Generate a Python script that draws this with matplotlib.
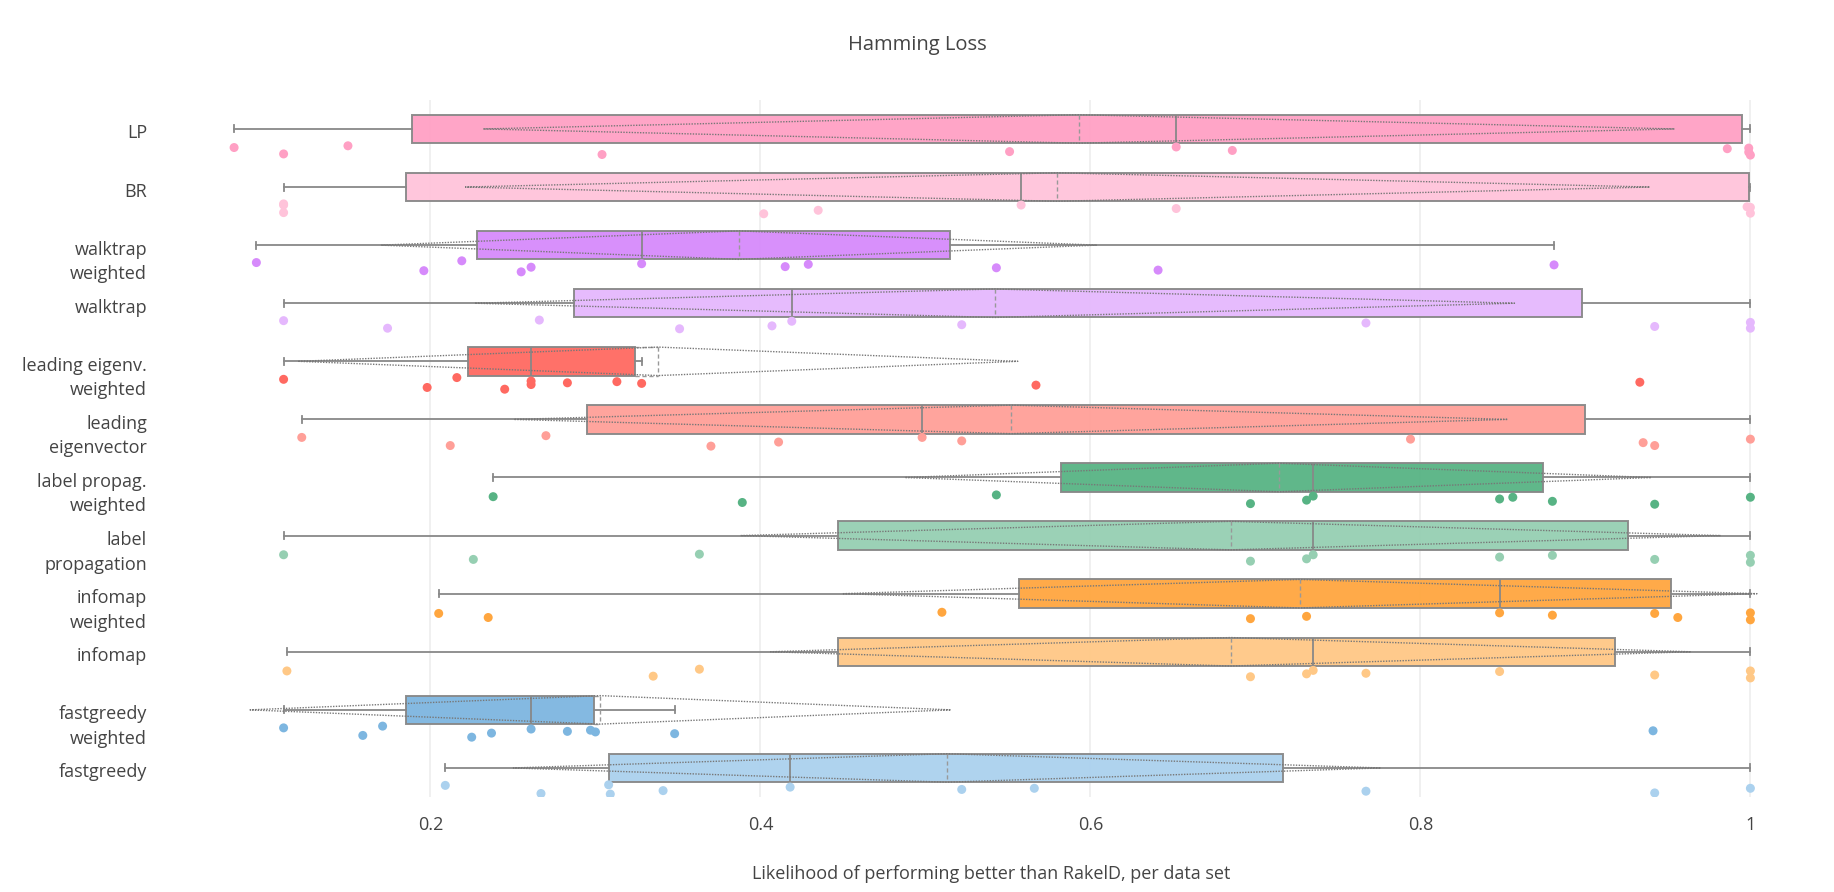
import matplotlib
matplotlib.use("Agg")
import matplotlib.pyplot as plt
import matplotlib.transforms as mtrans
import numpy as np

plt.rcParams['font.family'] = ['Open Sans', 'DejaVu Sans']

# categories, top to bottom
labels = ['LP', 'BR', 'walktrap\nweighted', 'walktrap', 'leading eigenv.\nweighted',
          'leading\neigenvector', 'label propag.\nweighted', 'label\npropagation',
          'infomap\nweighted', 'infomap', 'fastgreedy\nweighted', 'fastgreedy']
colors = ['#FFA0C4', '#FFC3DA', '#D68AFB', '#E5B8FD', '#FF6961', '#FF9F98',
          '#57B384', '#96CFB2', '#FFA63F', '#FFC886', '#7DB6E0', '#ABD1EE']

# box statistics as drawn in the reference (mean and sd shown as dotted diamond)
q1 = [0.189, 0.185, 0.228, 0.287, 0.223, 0.295, 0.582, 0.447, 0.557, 0.447, 0.185, 0.308]
med = [0.652, 0.558, 0.328, 0.419, 0.261, 0.498, 0.735, 0.735, 0.848, 0.735, 0.261, 0.418]
q3 = [0.995, 0.999, 0.515, 0.898, 0.324, 0.900, 0.874, 0.926, 0.952, 0.918, 0.299, 0.717]
wlo = [0.081, 0.111, 0.0945, 0.111, 0.111, 0.122, 0.238, 0.111, 0.205, 0.113, 0.111, 0.209]
whi = [1.0, 1.0, 0.881, 1.0, 0.328, 1.0, 1.0, 1.0, 1.0, 1.0, 0.348, 1.0]
mean = [0.593, 0.580, 0.387, 0.542, 0.338, 0.552, 0.714, 0.685, 0.727, 0.685, 0.303, 0.513]
sd = [0.361, 0.359, 0.217, 0.315, 0.218, 0.301, 0.226, 0.297, 0.277, 0.279, 0.2125, 0.263]

# per data set points, and their vertical jitter below each box
points = [
    [0.081, 0.111, 0.150, 0.304, 0.551, 0.652, 0.686, 0.986, 0.999, 0.999, 1.0],
    [0.111, 0.111, 0.111, 0.402, 0.435, 0.558, 0.652, 0.998, 1.0, 1.0],
    [0.0945, 0.196, 0.219, 0.255, 0.261, 0.328, 0.415, 0.429, 0.543, 0.641, 0.881],
    [0.111, 0.174, 0.266, 0.351, 0.407, 0.419, 0.522, 0.767, 0.942, 1.0, 1.0],
    [0.111, 0.198, 0.216, 0.245, 0.261, 0.261, 0.283, 0.313, 0.328, 0.567, 0.933],
    [0.122, 0.212, 0.270, 0.370, 0.411, 0.498, 0.522, 0.794, 0.935, 0.942, 1.0],
    [0.238, 0.389, 0.543, 0.697, 0.731, 0.735, 0.848, 0.856, 0.880, 0.942, 1.0],
    [0.111, 0.226, 0.363, 0.697, 0.731, 0.735, 0.848, 0.880, 0.942, 1.0, 1.0],
    [0.205, 0.235, 0.510, 0.697, 0.731, 0.848, 0.880, 0.942, 0.956, 1.0, 1.0],
    [0.113, 0.335, 0.363, 0.697, 0.731, 0.735, 0.767, 0.848, 0.942, 1.0, 1.0],
    [0.111, 0.159, 0.171, 0.225, 0.237, 0.261, 0.283, 0.297, 0.300, 0.348, 0.941],
    [0.209, 0.267, 0.308, 0.309, 0.341, 0.418, 0.522, 0.566, 0.767, 0.942, 1.0],
]
jitter = [
    [0.32, 0.43, 0.29, 0.44, 0.39, 0.31, 0.37, 0.34, 0.33, 0.40, 0.45],
    [0.29, 0.31, 0.44, 0.46, 0.40, 0.31, 0.37, 0.34, 0.35, 0.45],
    [0.30, 0.44, 0.27, 0.46, 0.38, 0.32, 0.37, 0.33, 0.39, 0.43, 0.34],
    [0.30, 0.43, 0.29, 0.44, 0.39, 0.31, 0.37, 0.34, 0.40, 0.33, 0.43],
    [0.31, 0.45, 0.28, 0.48, 0.34, 0.40, 0.37, 0.35, 0.38, 0.41, 0.36],
    [0.31, 0.45, 0.28, 0.46, 0.39, 0.31, 0.37, 0.34, 0.40, 0.45, 0.34],
    [0.33, 0.43, 0.30, 0.45, 0.39, 0.32, 0.37, 0.34, 0.41, 0.46, 0.34],
    [0.33, 0.41, 0.32, 0.44, 0.40, 0.33, 0.37, 0.34, 0.41, 0.34, 0.46],
    [0.34, 0.41, 0.32, 0.43, 0.39, 0.33, 0.37, 0.34, 0.41, 0.33, 0.45],
    [0.33, 0.42, 0.30, 0.43, 0.38, 0.32, 0.37, 0.34, 0.40, 0.33, 0.45],
    [0.31, 0.44, 0.28, 0.47, 0.40, 0.33, 0.37, 0.35, 0.38, 0.41, 0.36],
    [0.30, 0.44, 0.29, 0.45, 0.39, 0.33, 0.37, 0.35, 0.40, 0.43, 0.35],
]

text_col = '#444444'
line_col = '#888888'
half = 0.245  # half box height, in row units

fig = plt.figure(figsize=(18.34, 8.92), dpi=100)
ax = fig.add_axes([0.12, 0.1065, 0.8408, 0.7815])

rows = np.arange(len(labels))
stats = []
for i in rows:
    stats.append(dict(med=med[i], q1=q1[i], q3=q3[i], whislo=wlo[i], whishi=whi[i], fliers=[]))

bp = ax.bxp(stats, positions=rows, widths=2 * half, orientation='horizontal',
            patch_artist=True, showfliers=False, capwidths=0.12,
            boxprops=dict(edgecolor=line_col, linewidth=1.4),
            whiskerprops=dict(color=line_col, linewidth=1.3),
            capprops=dict(color=line_col, linewidth=1.3),
            medianprops=dict(color=line_col, linewidth=1.3), zorder=2)
for patch, c in zip(bp['boxes'], colors):
    patch.set_facecolor(c)
    patch.set_alpha(0.95)
    patch.set_edgecolor(line_col)

# mean line (dashed) and mean +/- sd diamond (dotted)
for i in rows:
    ax.plot([mean[i], mean[i]], [i - half, i + half], color='#999999', lw=1.0,
            ls=(0, (3, 2)), zorder=3)
    if mean[i] > q3[i]:
        for yy in (i - half, i + half):
            ax.plot([q3[i], mean[i]], [yy, yy], color='#999999', lw=1.0, ls=(0, (3, 2)), zorder=3)
    dx = [mean[i] - sd[i], mean[i], mean[i] + sd[i], mean[i], mean[i] - sd[i]]
    dy = [i, i - half, i, i + half, i]
    ax.plot(dx, dy, color='#777777', lw=1.0, ls=(0, (1, 1)), zorder=3)

for i in rows:
    ax.scatter(points[i], np.array(jitter[i]) + i, s=42, color=colors[i],
               edgecolors='none', zorder=4)

ax.set_xlim(0.0725, 1.0071)
ax.set_ylim(len(labels) - 0.5, -0.5)
ax.set_xticks([0.2, 0.4, 0.6, 0.8, 1.0])
ax.set_xticklabels(['0.2', '0.4', '0.6', '0.8', '1'])
ax.set_yticks(rows)
ax.set_yticklabels([])
ax.tick_params(axis='x', length=0, pad=14, labelsize=13, labelcolor=text_col)
ax.tick_params(axis='y', length=0)
ax.grid(axis='x', color='#eeeeee', lw=1.2, zorder=0)
ax.set_axisbelow(True)
for s in ax.spines.values():
    s.set_visible(False)

# category labels: first line on the row, following lines below it
trans = mtrans.blended_transform_factory(fig.transFigure, ax.transData)
for i, lab in enumerate(labels):
    for k, line in enumerate(lab.split('\n')):
        t = mtrans.offset_copy(trans, fig=fig, x=0, y=-(4.5 + 24.5 * k) * 72 / 100, units='points')
        ax.text(147 / 1834, i, line, transform=t, ha='right', va='center',
                fontsize=13, color=text_col)

fig.text(0.5, 0.949, 'Hamming Loss', ha='center', va='center', fontsize=14.5, color=text_col)
fig.text(0.5404, 0.0205, 'Likelihood of performing better than RakelD, per data set',
         ha='center', va='center', fontsize=13, color=text_col)

fig.savefig('out.png', dpi=100)
